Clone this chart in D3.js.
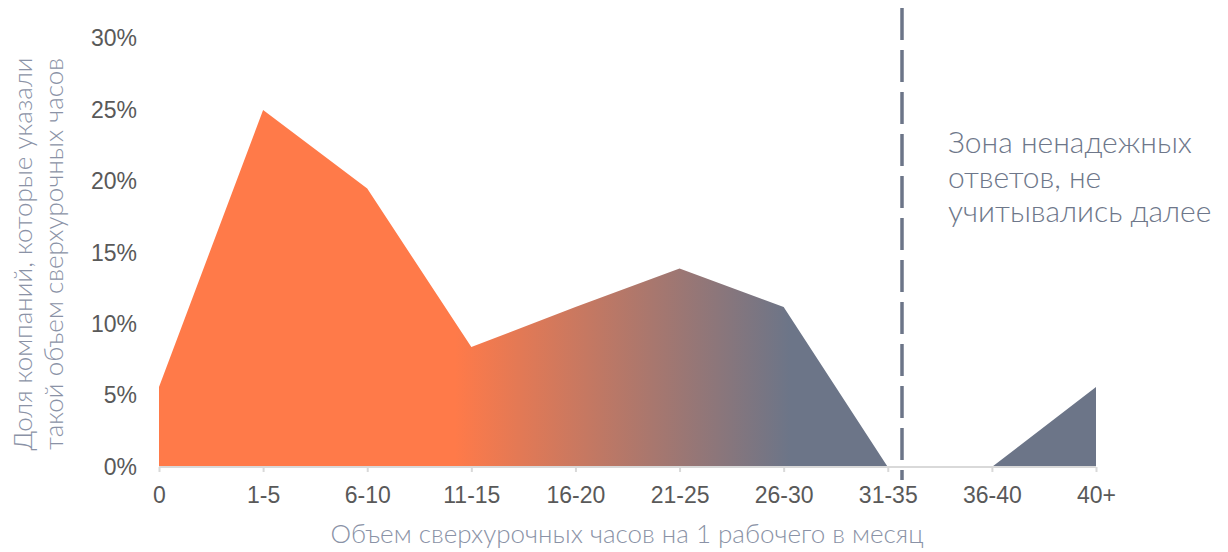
<!DOCTYPE html>
<html><head><meta charset="utf-8">
<script src="https://cdn.jsdelivr.net/npm/d3@7"></script>
<style>body{margin:0;background:#fff}svg{display:block}</style>
</head><body>
<svg id="c" width="1228" height="552"></svg>
<script>
const categories = ["0","1-5","6-10","11-15","16-20","21-25","26-30","31-35","36-40","40+"];
const values = [5.6, 25.0, 19.5, 8.4, 11.2, 13.9, 11.2, 0, 0, 5.6];
const yTicks = [0, 5, 10, 15, 20, 25, 30];
const yTitle = ["Доля компаний, которые указали", "такой объем сверхурочных часов"];
const xTitle = "Объем сверхурочных часов на 1 рабочего в месяц";
const note = ["Зона ненадежных", "ответов, не", "учитывались далее"];

const svg = d3.select("#c");
const x = d3.scalePoint().domain(categories).range([159, 1096]);
const y = d3.scaleLinear().domain([0, 30]).range([467, 38.6]);

const defs = svg.append("defs");
const g = defs.append("linearGradient").attr("id","gr").attr("gradientUnits","userSpaceOnUse")
  .attr("x1", 159).attr("x2", 1096).attr("y1",0).attr("y2",0);
g.append("stop").attr("offset", (455-159)/(1096-159)).attr("stop-color","#FF7A49");
g.append("stop").attr("offset", (790-159)/(1096-159)).attr("stop-color","#6C7588");
g.append("stop").attr("offset", 1).attr("stop-color","#6C7588");

const area = d3.area().x((d,i)=>x(categories[i])).y0(y(0)).y1(d=>y(d));
svg.append("path").datum(values).attr("d", area).attr("fill","url(#gr)");

const tickFont = "'Liberation Sans', Arial, sans-serif";
const titleFont = "Lato, 'Noto Sans', sans-serif";

// x axis
const xa = svg.append("g").attr("transform",`translate(0,${y(0)})`)
  .call(d3.axisBottom(x).tickSize(5).tickPadding(15));
xa.select(".domain").attr("stroke","#d9d9d9").attr("stroke-width",2).attr("d",`M${x(categories[0])},0H${x(categories[categories.length-1])}`);
xa.selectAll(".tick line").attr("stroke","#d9d9d9").attr("stroke-width",2);
xa.selectAll(".tick text").attr("fill","#595959").attr("font-family",tickFont).attr("font-size",23);

// y axis labels
const ya = svg.append("g").attr("transform","translate(137,0)")
  .call(d3.axisLeft(y).tickValues(yTicks).tickSize(0).tickPadding(0).tickFormat(d=>d+"%"));
ya.select(".domain").remove();
ya.selectAll(".tick text").attr("fill","#595959").attr("font-family",tickFont).attr("font-size",23);

// dashed line
svg.append("line").attr("x1",902).attr("x2",902).attr("y1",8).attr("y2",480)
  .attr("stroke","#6C7588").attr("stroke-width",3.5).attr("stroke-dasharray","32,10");

// note
const nt = svg.append("text").attr("x",948).attr("y",153).attr("fill","#6E778A")
  .attr("font-family",titleFont).attr("font-weight",300).attr("font-size",30);
note.forEach((s,i)=>nt.append("tspan").attr("x",948).attr("dy", i?34.5:0).text(s));

// axis titles
svg.append("text").attr("x", 627).attr("y", 543).attr("text-anchor","middle")
  .attr("fill","#8A92A6").attr("font-family",titleFont).attr("font-weight",300)
  .attr("font-size",26).text(xTitle);
const yt = svg.append("text").attr("transform","translate(0,254) rotate(-90)").attr("text-anchor","middle")
  .attr("fill","#8A92A6").attr("font-family",titleFont).attr("font-weight",300).attr("font-size",26);
yt.append("tspan").attr("x",0).attr("y",32).text(yTitle[0]);
yt.append("tspan").attr("x",0).attr("y",63).text(yTitle[1]);
</script>
</body></html>
